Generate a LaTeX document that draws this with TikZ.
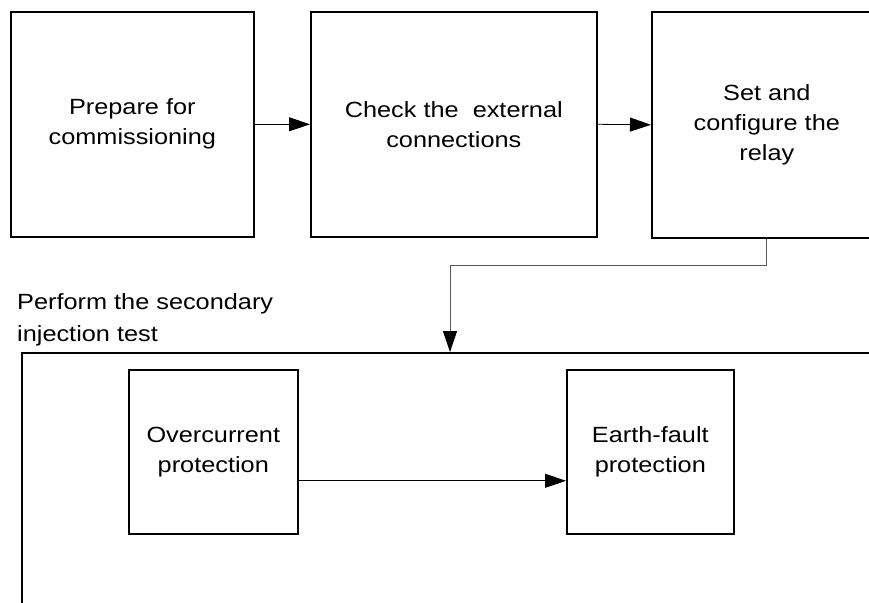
\documentclass[tikz,border=0pt]{standalone}
\usepackage{fontspec}
\setmainfont[FakeStretch=1.15]{Liberation Sans}
\usetikzlibrary{arrows.meta}
\begin{document}
\begin{tikzpicture}[x=1pt,y=-1pt,
  box/.style={draw=black,line width=1.6pt,inner sep=0pt,anchor=north west,align=center,
    font=\fontsize{22}{30}\selectfont},
  arr/.style={line width=0.8pt,-{Triangle[length=21pt,width=14pt]}},
  garr/.style={draw=black!65,line width=0.9pt,-{Triangle[length=21pt,width=14pt,fill=black,color=black]}},
  lbl/.style={inner sep=0pt,anchor=north west,align=left,font=\fontsize{22}{32}\selectfont}]
\useasboundingbox (0,0) rectangle (869,602);
\clip (0,0) rectangle (869,602);
\node[box,minimum width=243pt,minimum height=225pt] (b1) at (10,11) {Prepare for\\commissioning};
\node[box,minimum width=286pt,minimum height=225pt] (b2) at (310,11) {Check the\ \ external\\connections};
\node[box,minimum width=230pt,minimum height=226pt] (b3) at (651,11) {Set and\\configure the\\relay};
\node[box,minimum width=900pt,minimum height=300pt] (big) at (21,352) {};
\node[lbl] (lab) at (17,293) {Perform the secondary\\injection test};
\node[box,minimum width=169pt,minimum height=164pt] (oc) at (128,369) {Overcurrent\\protection};
\node[box,minimum width=167pt,minimum height=164pt] (ef) at (566,369) {Earth-fault\\protection};
\draw[arr] (b1.east) -- (b2.west);
\draw[arr] (b2.east) -- (b3.west);
\coordinate (bend) at (450,265);
\draw[garr] (b3.south) |- (bend) -- (bend |- big.north);
\draw[arr] ([yshift=-29pt]oc.east) -- ([yshift=-29pt]ef.west);
\end{tikzpicture}
\end{document}
